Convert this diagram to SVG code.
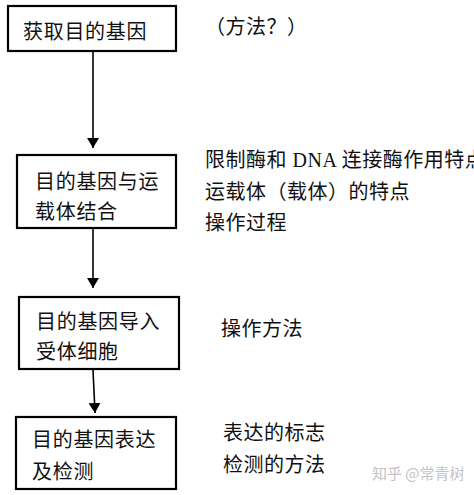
<svg xmlns="http://www.w3.org/2000/svg" width="474" height="495" viewBox="0 0 474 495">
<style>
.box{fill:#fff;stroke:#000;stroke-width:2.2}
.t{font-family:"Noto Sans CJK SC","Liberation Sans",sans-serif;font-size:20px;fill:#111;letter-spacing:0.7px}
.r{font-family:"Liberation Serif","Noto Sans CJK SC",serif;font-size:20px;fill:#111;letter-spacing:0.5px}
.c{stroke:#000;stroke-width:1.6;fill:none}
.wm{font-family:"Noto Sans CJK SC",sans-serif;font-size:15px;fill:#c4c4c4}
</style>
<defs>
<marker id="ah" viewBox="0 0 10 12" refX="10" refY="6" markerWidth="10" markerHeight="12" markerUnits="userSpaceOnUse" orient="auto">
<path d="M0,0 L10,6 L0,12 Z" fill="#000"/>
</marker>
</defs>
<rect width="474" height="495" fill="#fff"/>
<g id="connectors">
<line class="c" x1="93" y1="52" x2="93" y2="148" marker-end="url(#ah)"/>
<line class="c" x1="93" y1="229" x2="93" y2="288" marker-end="url(#ah)"/>
<line class="c" x1="93" y1="370" x2="95" y2="413" marker-end="url(#ah)"/>
</g>
<g id="node1">
<rect class="box" x="8" y="6" width="168" height="45"/>
<text class="t" x="23" y="39">获取目的基因</text>
</g>
<g id="node2">
<rect class="box" x="17" y="155" width="159" height="73"/>
<text class="t" x="35" y="189">目的基因与运</text>
<text class="t" x="35" y="219">载体结合</text>
</g>
<g id="node3">
<rect class="box" x="19" y="297" width="160" height="72"/>
<text class="t" x="36" y="329">目的基因导入</text>
<text class="t" x="36" y="359">受体细胞</text>
</g>
<g id="node4">
<rect class="box" x="16" y="417" width="160" height="72"/>
<text class="t" x="32" y="447">目的基因表达</text>
<text class="t" x="32" y="479">及检测</text>
</g>
<g id="notes">
<text class="r" x="205" y="34">（方法？）</text>
<text class="r" x="205" y="167">限制酶和 DNA 连接酶作用特点</text>
<text class="r" x="205" y="199">运载体（载体）的特点</text>
<text class="r" x="205" y="230">操作过程</text>
<text class="r" x="221" y="336">操作方法</text>
<text class="r" x="223" y="440">表达的标志</text>
<text class="r" x="223" y="472">检测的方法</text>
<text class="wm" x="372" y="479">知乎 @常青树</text>
</g>
</svg>
